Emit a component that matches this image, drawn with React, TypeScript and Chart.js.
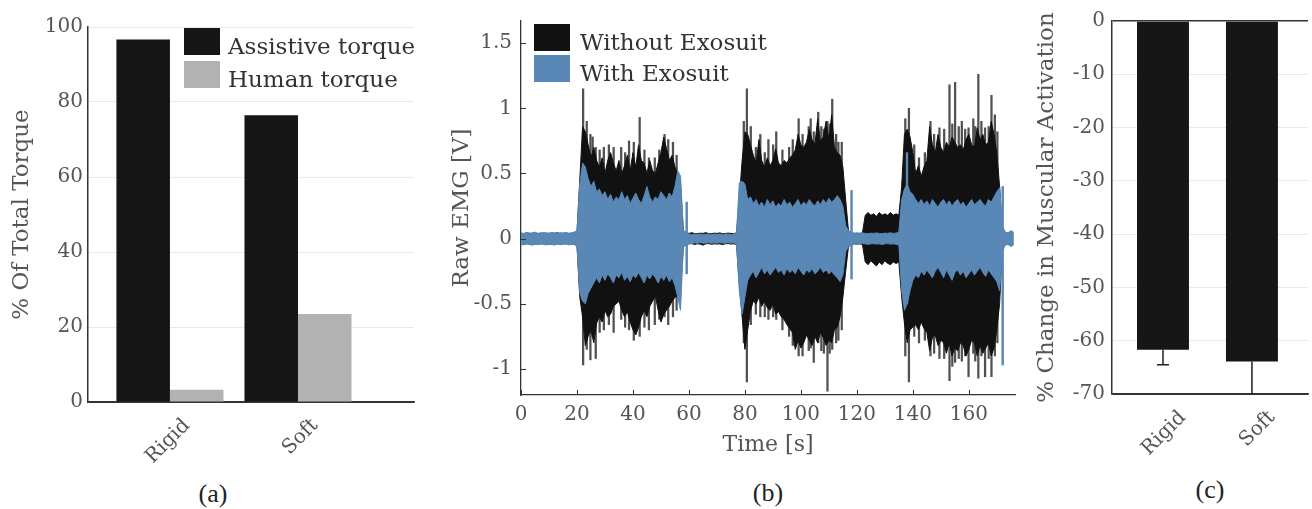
import React, { useEffect, useRef } from "react";
import { Chart, registerables } from "chart.js";
Chart.register(...registerables);

// ---------- Panel (a): share of total torque ----------
const torqueCategories = ["Rigid", "Soft"];
const assistiveTorque = [96.7, 76.5];
const humanTorque = [3.3, 23.5];
const torqueYTicks = [0, 20, 40, 60, 80, 100];

// ---------- Panel (c): change in muscular activation ----------
const activationCategories = ["Rigid", "Soft"];
const activationChange = [-61.7, -63.9];
const activationError = [2.8, 7.5];
const activationYTicks = [0, -10, -20, -30, -40, -50, -60, -70];

// ---------- Panel (b): raw EMG envelope, one sample per second (0..176 s) ----------
const emgXTicks = [0, 20, 40, 60, 80, 100, 120, 140, 160];
const emgYTicks = [-1, -0.5, 0, 0.5, 1, 1.5];

const noExoHigh = [
  0.04, 0.035, 0.045, 0.04, 0.038, 0.042, 0.04, 0.036, 0.044, 0.04,
  0.038, 0.042, 0.04, 0.045, 0.036, 0.04, 0.042, 0.038, 0.04, 0.044,
  0.05, 0.45, 0.86, 0.82, 0.72, 0.62, 0.7, 0.6, 0.55, 0.62,
  0.5, 0.6, 0.66, 0.58, 0.52, 0.6, 0.5, 0.56, 0.64, 0.52,
  0.66, 0.55, 0.72, 0.6, 0.58, 0.5, 0.6, 0.52, 0.5, 0.58,
  0.66, 0.78, 0.69, 0.6, 0.64, 0.55, 0.5, 0.42, 0.06, 0.05,
  0.04, 0.045, 0.04, 0.038, 0.042, 0.04, 0.046, 0.04, 0.038, 0.042,
  0.04, 0.044, 0.038, 0.04, 0.042, 0.04, 0.038, 0.045, 0.3, 0.6,
  0.82, 0.8, 0.72, 0.64, 0.58, 0.76, 0.6, 0.55, 0.62, 0.56,
  0.6, 0.69, 0.58, 0.56, 0.6, 0.58, 0.62, 0.64, 0.68, 0.8,
  0.72, 0.7, 0.74, 0.84, 0.76, 0.72, 0.92, 0.74, 0.78, 0.9,
  0.76, 0.95, 0.7, 0.66, 0.64, 0.55, 0.3, 0.06, 0.05, 0.04,
  0.042, 0.04, 0.045, 0.18, 0.2, 0.18, 0.19, 0.17, 0.2, 0.18,
  0.19, 0.18, 0.2, 0.18, 0.19, 0.18, 0.4, 0.8, 0.84, 0.78,
  0.66, 0.5, 0.56, 0.48, 0.55, 0.6, 0.86, 0.72, 0.66, 0.8,
  0.7, 0.66, 0.74, 0.7, 0.78, 0.74, 0.7, 0.72, 0.68, 0.76,
  0.8, 0.72, 0.7, 0.85, 0.76, 0.8, 0.72, 0.74, 0.9, 0.8,
  0.66, 0.4, 0.06, 0.04, 0.042, 0.045, 0.04,
];
const noExoLow = [
  -0.04, -0.042, -0.038, -0.045, -0.04, -0.036, -0.044, -0.04, -0.038, -0.042,
  -0.04, -0.045, -0.036, -0.04, -0.042, -0.038, -0.04, -0.044, -0.04, -0.038,
  -0.05, -0.45, -0.6, -0.82, -0.75, -0.7, -0.8, -0.65, -0.6, -0.64,
  -0.55, -0.6, -0.58, -0.52, -0.5, -0.48, -0.55, -0.6, -0.56, -0.64,
  -0.7, -0.74, -0.68, -0.6, -0.55, -0.6, -0.52, -0.48, -0.44, -0.55,
  -0.64, -0.58, -0.55, -0.52, -0.48, -0.45, -0.44, -0.4, -0.06, -0.05,
  -0.04, -0.038, -0.045, -0.04, -0.042, -0.05, -0.04, -0.038, -0.044, -0.04,
  -0.042, -0.04, -0.046, -0.04, -0.038, -0.042, -0.04, -0.044, -0.35, -0.6,
  -0.85, -0.7, -0.55, -0.48, -0.5, -0.45, -0.52, -0.48, -0.53, -0.55,
  -0.5, -0.58, -0.56, -0.6, -0.62, -0.66, -0.69, -0.72, -0.85, -0.78,
  -0.84, -0.8, -0.74, -0.78, -0.82, -0.75, -0.8, -0.72, -0.76, -0.82,
  -0.78, -0.8, -0.7, -0.68, -0.6, -0.45, -0.25, -0.06, -0.05, -0.04,
  -0.042, -0.04, -0.045, -0.18, -0.2, -0.17, -0.19, -0.21, -0.18, -0.2,
  -0.17, -0.19, -0.2, -0.18, -0.19, -0.18, -0.45, -0.65, -0.8, -0.7,
  -0.68, -0.66, -0.7, -0.64, -0.69, -0.72, -0.86, -0.76, -0.74, -0.82,
  -0.78, -0.8, -0.88, -0.8, -0.9, -0.84, -0.86, -0.8, -0.82, -0.9,
  -0.85, -0.78, -0.8, -0.9, -0.82, -0.88, -0.84, -0.8, -0.9, -0.84,
  -0.7, -0.5, -0.06, -0.04, -0.042, -0.04, -0.038,
];
const exoHigh = [
  0.045, 0.04, 0.048, 0.042, 0.045, 0.05, 0.04, 0.046, 0.044, 0.045,
  0.042, 0.048, 0.045, 0.04, 0.046, 0.044, 0.048, 0.042, 0.045, 0.05,
  0.06, 0.42, 0.58, 0.55, 0.46, 0.4, 0.44, 0.36, 0.38, 0.33,
  0.36, 0.3, 0.34, 0.28, 0.32, 0.3, 0.36, 0.3, 0.33, 0.27,
  0.31, 0.35, 0.3, 0.27, 0.33, 0.4, 0.32, 0.28, 0.32, 0.3,
  0.36, 0.33, 0.3, 0.35, 0.32, 0.4, 0.52, 0.48, 0.06, 0.05,
  0.035, 0.03, 0.036, 0.032, 0.035, 0.03, 0.034, 0.036, 0.03, 0.035,
  0.032, 0.035, 0.03, 0.036, 0.034, 0.03, 0.035, 0.04, 0.43, 0.44,
  0.42, 0.3, 0.32, 0.27, 0.3, 0.25, 0.28, 0.24, 0.3, 0.26,
  0.29, 0.24, 0.27, 0.25, 0.3, 0.26, 0.28, 0.24, 0.27, 0.3,
  0.25, 0.28, 0.26, 0.3, 0.27, 0.25, 0.29, 0.26, 0.3, 0.27,
  0.31, 0.28, 0.3, 0.33, 0.3, 0.25, 0.1, 0.06, 0.05, 0.04,
  0.042, 0.04, 0.045, 0.04, 0.038, 0.042, 0.04, 0.044, 0.04, 0.038,
  0.042, 0.04, 0.045, 0.04, 0.042, 0.05, 0.3, 0.38, 0.42, 0.36,
  0.34, 0.3, 0.27, 0.3, 0.26, 0.29, 0.25, 0.3, 0.27, 0.24,
  0.28, 0.3, 0.26, 0.29, 0.25, 0.28, 0.3, 0.26, 0.28, 0.24,
  0.27, 0.3, 0.26, 0.28, 0.3, 0.27, 0.25, 0.3, 0.28, 0.32,
  0.36, 0.39, 0.1, 0.05, 0.045, 0.06, 0.05,
];
const exoLow = [
  -0.045, -0.048, -0.042, -0.045, -0.05, -0.044, -0.046, -0.04, -0.045, -0.048,
  -0.044, -0.045, -0.05, -0.042, -0.046, -0.045, -0.04, -0.048, -0.044, -0.046,
  -0.06, -0.42, -0.48, -0.5, -0.42, -0.38, -0.34, -0.3, -0.34, -0.28,
  -0.32, -0.27, -0.3, -0.34, -0.28, -0.3, -0.26, -0.32, -0.29, -0.33,
  -0.28, -0.3, -0.26, -0.3, -0.34, -0.28, -0.31, -0.27, -0.3, -0.34,
  -0.29, -0.32, -0.28, -0.33, -0.3, -0.36, -0.45, -0.55, -0.06, -0.05,
  -0.035, -0.04, -0.032, -0.036, -0.03, -0.035, -0.034, -0.03, -0.036, -0.032,
  -0.035, -0.03, -0.034, -0.036, -0.03, -0.035, -0.032, -0.04, -0.4, -0.58,
  -0.45, -0.32, -0.28, -0.25, -0.3, -0.26, -0.22, -0.27, -0.24, -0.28,
  -0.25, -0.22, -0.26, -0.24, -0.28, -0.23, -0.26, -0.24, -0.27, -0.22,
  -0.25, -0.28, -0.24, -0.26, -0.23, -0.27, -0.25, -0.22, -0.26, -0.24,
  -0.27, -0.25, -0.28, -0.3, -0.33, -0.28, -0.1, -0.06, -0.05, -0.04,
  -0.04, -0.042, -0.038, -0.04, -0.044, -0.04, -0.038, -0.042, -0.04, -0.045,
  -0.04, -0.038, -0.042, -0.04, -0.044, -0.05, -0.4, -0.55, -0.5, -0.4,
  -0.32, -0.28, -0.3, -0.25, -0.28, -0.24, -0.27, -0.3, -0.25, -0.22,
  -0.26, -0.3, -0.24, -0.28, -0.32, -0.26, -0.24, -0.28, -0.25, -0.3,
  -0.27, -0.24, -0.28, -0.25, -0.22, -0.26, -0.29, -0.24, -0.27, -0.3,
  -0.33, -0.4, -0.1, -0.05, -0.045, -0.06, -0.05,
];

// thin outlier spikes of the black (without exosuit) trace
const blackSpikeTimes = [
  22.2, 23.5, 24.8, 25.6, 26.7, 28.1, 29.6, 31.4, 33.1, 35.8, 37.2, 38.6, 40.3, 42.4, 44.1, 45.7, 47.8, 49.4, 51.3, 52.6, 54.3, 55.6,
  79.6, 80.7, 82.1, 83.9, 85.5, 87.1, 88.4, 90.1, 91.2, 93.4, 95.8, 97.1, 99.2, 100.6, 102.8, 103.5, 104.6, 106.2, 107.3, 108.2, 109.5, 110.3, 111.2, 112.6, 113.4, 114.6,
  137.3, 138.6, 140.5, 142.2, 144.3, 146.3, 147.6, 149.5, 151.2, 153.1, 154.1, 155.1, 156.4, 157.5, 158.7, 159.9, 161.6, 162.3, 163.4, 164.5, 165.8, 167.1, 168.1, 169.3, 170.2,
];
const blackSpikeLow = [
  -0.97, -0.85, -0.93, -0.75, -0.92, -0.72, -0.7, -0.66, -0.72, -0.62, -0.68, -0.7, -0.78, -0.75, -0.68, -0.7, -0.66, -0.62, -0.6, -0.66, -0.6, -0.55,
  -0.8, -1.1, -0.66, -0.58, -0.6, -0.6, -0.62, -0.6, -0.62, -0.7, -0.75, -0.82, -0.9, -0.9, -0.86, -0.84, -0.95, -0.8, -0.86, -0.88, -1.17, -0.88, -0.85, -0.8, -0.78, -0.7,
  -0.9, -1.1, -0.75, -0.8, -0.78, -0.9, -0.88, -0.92, -0.92, -1.09, -0.98, -0.95, -0.92, -0.94, -0.9, -1.06, -0.88, -0.94, -1.07, -0.9, -1.06, -0.92, -1.06, -0.9, -0.8,
];
const blackSpikeHigh = [
  1.15, 0.9, 0.8, 0.78, 0.7, 0.68, 0.7, 0.72, 0.7, 0.7, 0.66, 0.75, 0.74, 0.93, 0.68, 0.62, 0.62, 0.68, 0.8, 0.76, 0.74, 0.64,
  0.9, 1.15, 0.86, 0.7, 0.8, 0.66, 0.76, 0.72, 0.82, 0.68, 0.7, 0.76, 0.92, 0.8, 0.86, 0.92, 0.82, 0.97, 0.86, 0.84, 0.9, 0.88, 1.07, 0.8, 0.74, 0.74,
  0.92, 1.0, 0.72, 0.62, 0.66, 0.9, 0.8, 0.85, 0.84, 1.18, 0.88, 1.2, 0.86, 0.9, 0.84, 0.85, 0.92, 0.86, 1.26, 0.9, 0.85, 0.86, 1.1, 0.95, 0.82,
];
// thin spikes of the blue (with exosuit) trace
const blueSpikeTimes = [59.2, 118.1, 137.9, 172.1];
const blueSpikeLow = [-0.27, -0.31, -0.5, -0.97];
const blueSpikeHigh = [0.28, 0.37, 0.66, 0.4];

const emgTime = noExoHigh.map((_, i) => i); // sampling grid in seconds

// ---------- styling ----------
const SERIF = '"DejaVu Serif", serif';
const CAPTION_FONT = '"Liberation Serif", serif';
const TICK_FONT = { family: SERIF, size: 20 };
const TITLE_FONT = { family: SERIF, size: 23 };
const TEXT_GRAY = "#555";
const AXIS = "#333";
const GRID = "#e9e9e9";
const BAR_BLACK = "#161616";
const BAR_GRAY = "#b2b2b2";
const EMG_BLACK = "#111111";
const EMG_BLUE = "#5987b6";

const boxLegendPlugin = {
  id: "boxLegend",
  afterDraw(chart: any, _args: any, opts: any) {
    const items = opts.items || [];
    const ctx = chart.ctx;
    ctx.save();
    ctx.font = opts.font;
    ctx.textBaseline = "alphabetic";
    ctx.textAlign = "left";
    for (let i = 0; i < items.length; i++) {
      const it = items[i];
      const y = opts.y + i * opts.rowGap;
      ctx.fillStyle = it.color;
      ctx.fillRect(opts.x, y, opts.boxWidth, opts.boxHeight);
      ctx.fillStyle = opts.textColor;
      ctx.fillText(it.label, opts.x + opts.boxWidth + opts.textGap, y + opts.boxHeight - 1);
    }
    ctx.restore();
  },
};

const inwardTicksPlugin = {
  id: "inwardTicks",
  afterDatasetsDraw(chart: any, _args: any, opts: any) {
    const { ctx, chartArea, scales } = chart;
    ctx.save();
    ctx.strokeStyle = opts.color;
    ctx.lineWidth = opts.width;
    ctx.beginPath();
    scales.x.ticks.forEach((t: any) => {
      const px = Math.round(scales.x.getPixelForValue(t.value)) + 0.5;
      ctx.moveTo(px, chartArea.bottom);
      ctx.lineTo(px, chartArea.bottom - opts.length);
    });
    scales.y.ticks.forEach((t: any) => {
      const py = Math.round(scales.y.getPixelForValue(t.value)) + 0.5;
      ctx.moveTo(chartArea.left, py);
      ctx.lineTo(chartArea.left + opts.length, py);
    });
    ctx.stroke();
    ctx.restore();
  },
};

const errorBarPlugin = {
  id: "errorBars",
  afterDatasetsDraw(chart: any, _args: any, opts: any) {
    const { ctx, chartArea, scales } = chart;
    const meta = chart.getDatasetMeta(0);
    const values = chart.data.datasets[0].data;
    ctx.save();
    ctx.beginPath();
    ctx.rect(chartArea.left, chartArea.top, chartArea.right - chartArea.left, chartArea.bottom - chartArea.top);
    ctx.clip();
    ctx.strokeStyle = opts.color;
    ctx.lineWidth = opts.width;
    meta.data.forEach((bar: any, i: number) => {
      const v = values[i].y;
      const yEnd = scales.y.getPixelForValue(v - opts.errors[i]);
      ctx.beginPath();
      ctx.moveTo(bar.x, bar.y);
      ctx.lineTo(bar.x, yEnd);
      ctx.moveTo(bar.x - opts.cap / 2, yEnd);
      ctx.lineTo(bar.x + opts.cap / 2, yEnd);
      ctx.stroke();
    });
    ctx.restore();
  },
};

function makeTorqueConfig(): any {
  return {
    type: "bar",
    data: {
      datasets: [
        {
          label: "Assistive torque",
          data: assistiveTorque.map((v, i) => ({ x: i + 1, y: v })),
          backgroundColor: BAR_BLACK,
          categoryPercentage: 0.836,
          barPercentage: 1,
        },
        {
          label: "Human torque",
          data: humanTorque.map((v, i) => ({ x: i + 1, y: v })),
          backgroundColor: BAR_GRAY,
          categoryPercentage: 0.836,
          barPercentage: 1,
        },
      ],
    },
    options: {
      responsive: false,
      animation: false,
      layout: { padding: { left: 0, top: 27, right: 16, bottom: 0 } },
      plugins: {
        legend: { display: false },
        tooltip: { enabled: false },
        boxLegend: {
          items: [
            { label: "Assistive torque", color: BAR_BLACK },
            { label: "Human torque", color: BAR_GRAY },
          ],
          x: 184, y: 28, rowGap: 33, boxWidth: 36, boxHeight: 27, textGap: 8,
          font: `23px ${SERIF}`, textColor: "#333",
        },
      },
      scales: {
        x: {
          type: "linear", min: 0.36, max: 2.906, offset: false,
          afterBuildTicks: (s: any) => { s.ticks = torqueCategories.map((_, i) => ({ value: i + 1 })); },
          afterFit: (s: any) => { s.height = 68; },
          grid: { display: false, drawTicks: false },
          border: { display: true, color: AXIS, width: 1.5 },
          ticks: {
            autoSkip: false, minRotation: 45, maxRotation: 45, labelOffset: 17, padding: 12,
            font: TICK_FONT, color: TEXT_GRAY,
            callback: (_v: any, i: number) => torqueCategories[i],
          },
        },
        y: {
          min: 0, max: 100,
          afterBuildTicks: (s: any) => { s.ticks = torqueYTicks.map((v) => ({ value: v })); },
          afterFit: (s: any) => { s.width = 88; },
          grid: { color: (c: any) => (c.tick && c.tick.value === 0 ? AXIS : GRID), drawTicks: false },
          border: { display: true, color: AXIS, width: 1.5 },
          ticks: { padding: 5, font: TICK_FONT, color: TEXT_GRAY },
          title: { display: true, text: "% Of Total Torque", font: TITLE_FONT, color: TEXT_GRAY, padding: { top: 8, bottom: 0 } },
        },
      },
    },
    plugins: [boxLegendPlugin],
  };
}

function makeEmgConfig(): any {
  const line = (vals: number[], color: string, fill: any, order: number, label: string) => ({
    label,
    data: emgTime.map((t, i) => ({ x: t, y: vals[i] })),
    borderColor: color,
    backgroundColor: color,
    borderWidth: 1,
    pointRadius: 0,
    tension: 0,
    fill,
    order,
  });
  return {
    type: "line",
    data: {
      datasets: [
        line(noExoHigh, EMG_BLACK, "+1", 3, "Without Exosuit"),
        line(noExoLow, EMG_BLACK, false, 3, "Without Exosuit (lower)"),
        line(exoHigh, EMG_BLUE, "+1", 1, "With Exosuit"),
        line(exoLow, EMG_BLUE, false, 1, "With Exosuit (lower)"),
        {
          type: "bar",
          label: "Without Exosuit spikes",
          data: blackSpikeTimes.map((t, i) => ({ x: t, y: [blackSpikeLow[i], blackSpikeHigh[i]] })),
          backgroundColor: "rgba(50,50,50,0.85)",
          barThickness: 1.6,
          grouped: false,
          order: 4,
        },
        {
          type: "bar",
          label: "With Exosuit spikes",
          data: blueSpikeTimes.map((t, i) => ({ x: t, y: [blueSpikeLow[i], blueSpikeHigh[i]] })),
          backgroundColor: EMG_BLUE,
          barThickness: 1.8,
          grouped: false,
          order: 2,
        },
      ],
    },
    options: {
      responsive: false,
      animation: false,
      layout: { padding: { left: 0, top: 12, right: 15, bottom: 0 } },
      plugins: {
        legend: { display: false },
        tooltip: { enabled: false },
        boxLegend: {
          items: [
            { label: "Without Exosuit", color: EMG_BLACK },
            { label: "With Exosuit", color: EMG_BLUE },
          ],
          x: 104, y: 24, rowGap: 31, boxWidth: 36, boxHeight: 27, textGap: 10,
          font: `23px ${SERIF}`, textColor: "#333",
        },
        inwardTicks: { length: 5, color: AXIS, width: 1 },
      },
      scales: {
        x: {
          type: "linear", min: 0, max: 176.5, offset: false,
          afterBuildTicks: (s: any) => { s.ticks = emgXTicks.map((v) => ({ value: v })); },
          afterFit: (s: any) => { s.height = 75; },
          grid: { display: false, drawTicks: false },
          border: { display: true, color: AXIS, width: 1.3 },
          ticks: { autoSkip: false, maxRotation: 0, padding: 8, font: TICK_FONT, color: TEXT_GRAY, callback: (v: any) => String(v) },
          title: { display: true, text: "Time [s]", font: { family: SERIF, size: 22 }, color: TEXT_GRAY, padding: { top: 0, bottom: 12 } },
        },
        y: {
          type: "linear", min: -1.2, max: 1.67,
          afterBuildTicks: (s: any) => { s.ticks = emgYTicks.map((v) => ({ value: v })); },
          afterFit: (s: any) => { s.width = 91; },
          grid: { display: false, drawTicks: false },
          border: { display: true, color: AXIS, width: 1.3 },
          ticks: { padding: 9, font: TICK_FONT, color: TEXT_GRAY, callback: (v: any) => String(v) },
          title: { display: true, text: "Raw EMG [V]", font: TITLE_FONT, color: TEXT_GRAY, padding: { top: 18, bottom: 0 } },
        },
      },
    },
    plugins: [boxLegendPlugin, inwardTicksPlugin],
  };
}

function makeActivationConfig(): any {
  return {
    type: "bar",
    data: {
      datasets: [
        {
          label: "% Change in Muscular Activation",
          data: activationChange.map((v, i) => ({ x: i + 1, y: v })),
          backgroundColor: BAR_BLACK,
          categoryPercentage: 0.584,
          barPercentage: 1,
        },
      ],
    },
    options: {
      responsive: false,
      animation: false,
      layout: { padding: { left: 0, top: 21, right: 4, bottom: 0 } },
      plugins: {
        legend: { display: false },
        tooltip: { enabled: false },
        errorBars: { errors: activationError, color: "#222", width: 1.5, cap: 12 },
      },
      scales: {
        x: {
          type: "linear", min: 0.427, max: 2.63, offset: false,
          afterBuildTicks: (s: any) => { s.ticks = activationCategories.map((_, i) => ({ value: i + 1 })); },
          afterFit: (s: any) => { s.height = 76; },
          grid: { display: false, drawTicks: false },
          border: { display: true, color: AXIS, width: 1.5 },
          ticks: {
            autoSkip: false, minRotation: 45, maxRotation: 45, labelOffset: 20, padding: 12,
            font: TICK_FONT, color: TEXT_GRAY,
            callback: (_v: any, i: number) => activationCategories[i],
          },
        },
        y: {
          min: -70, max: 0,
          afterBuildTicks: (s: any) => { s.ticks = activationYTicks.map((v) => ({ value: v })); },
          afterFit: (s: any) => { s.width = 82; },
          grid: {
            color: (c: any) => (c.tick && (c.tick.value === 0 || c.tick.value === -70) ? AXIS : GRID),
            lineWidth: (c: any) => (c.tick && c.tick.value === 0 ? 1.5 : 1),
            drawTicks: false,
          },
          border: { display: true, color: AXIS, width: 1.5 },
          ticks: { padding: 7, font: TICK_FONT, color: TEXT_GRAY, callback: (v: any) => String(v) },
          title: { display: true, text: "% Change in Muscular Activation", font: TITLE_FONT, color: TEXT_GRAY, padding: { top: 3, bottom: 0 } },
        },
      },
    },
    plugins: [errorBarPlugin],
  };
}

function Panel(props: { left: number; width: number; height: number; make: () => any }) {
  const ref = useRef<HTMLCanvasElement | null>(null);
  useEffect(() => {
    if (!ref.current) return;
    const chart = new Chart(ref.current, props.make());
    return () => chart.destroy();
  }, []);
  return (
    <canvas
      ref={ref}
      width={props.width}
      height={props.height}
      style={{ position: "absolute", left: props.left, top: 0, width: props.width, height: props.height }}
    />
  );
}

function Caption(props: { x: number; y: number; text: string }) {
  return (
    <div
      style={{
        position: "absolute",
        left: props.x,
        top: props.y,
        transform: "translate(-50%, -50%)",
        fontFamily: CAPTION_FONT,
        fontSize: 26,
        color: "#222",
        lineHeight: 1,
        whiteSpace: "nowrap",
      }}
    >
      {props.text}
    </div>
  );
}

export default function App() {
  Chart.defaults.font.family = SERIF;
  return (
    <div style={{ position: "fixed", left: 0, top: 0, width: 1312, height: 509, background: "#fff", overflow: "hidden" }}>
      <Panel left={0} width={430} height={470} make={makeTorqueConfig} />
      <Panel left={430} width={600} height={470} make={makeEmgConfig} />
      <Panel left={1030} width={282} height={470} make={makeActivationConfig} />
      <Caption x={213} y={494} text="(a)" />
      <Caption x={768} y={493} text="(b)" />
      <Caption x={1210} y={490} text="(c)" />
    </div>
  );
}
